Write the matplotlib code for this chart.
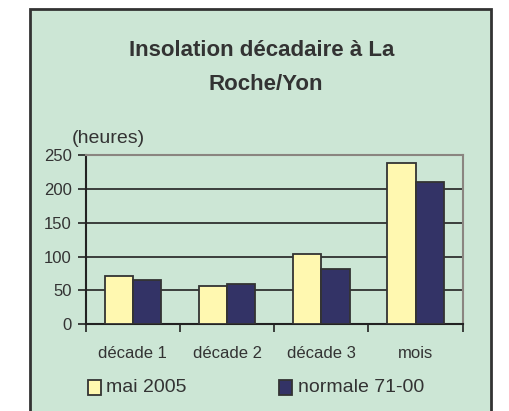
import matplotlib
matplotlib.use('Agg')
import matplotlib.pyplot as plt
from matplotlib.patches import Rectangle
import numpy as np

categories = ['décade 1', 'décade 2', 'décade 3', 'mois']
mai_2005 = [72, 56, 104, 238]
normale = [66, 60, 82, 210]
yticks = [0, 50, 100, 150, 200, 250]

plt.rcParams['font.family'] = ['Liberation Sans', 'DejaVu Sans']
txt = '#333333'
bg = '#cce6d5'

fig = plt.figure(figsize=(5.09, 4.11), dpi=100)
fig.patch.set_facecolor('white')

# green panel with dark border (bottom runs off the image)
panel = Rectangle((30 / 509, -0.05), (491 - 30) / 509, 1.05 - 9 / 411,
                  transform=fig.transFigure, facecolor=bg, edgecolor='#333333',
                  linewidth=2, zorder=-5)
fig.patches.append(panel)

ax = fig.add_axes([85.7 / 509, 86.7 / 411, 377 / 509, 169.3 / 411])
ax.set_facecolor('none')

x = np.arange(len(categories))
w = 0.3
ax.bar(x - w / 2, mai_2005, w, color='#fff8b0', edgecolor='#333333', linewidth=1.3, zorder=3,
       label='mai 2005')
ax.bar(x + w / 2, normale, w, color='#333366', edgecolor='#333333', linewidth=1.3, zorder=3,
       label='normale 71-00')

ax.set_xlim(-0.5, len(categories) - 0.5)
ax.set_ylim(0, 250)
ax.set_yticks(yticks)
ax.set_yticklabels([str(v) for v in yticks], fontsize=12, color=txt)
for v in yticks[1:-1]:
    ax.axhline(v, color='#222222', linewidth=1.2, zorder=1)

ax.set_xticks(np.arange(len(categories) + 1) - 0.5)
ax.set_xticklabels([])
ax.tick_params(axis='x', direction='out', length=6, width=1.2, color='#222222')
ax.tick_params(axis='y', direction='out', length=6, width=1.2, color='#222222', pad=4)
for i, c in enumerate(categories):
    ax.text(i, -0.17, c, transform=ax.get_xaxis_transform(), ha='center', va='center',
            fontsize=12, color=txt)

ax.spines['left'].set_color('#222222')
ax.spines['left'].set_linewidth(1.5)
ax.spines['bottom'].set_color('#222222')
ax.spines['bottom'].set_linewidth(1.5)
ax.spines['top'].set_color('#8a8580')
ax.spines['top'].set_linewidth(1.5)
ax.spines['right'].set_color('#8a8580')
ax.spines['right'].set_linewidth(1.5)

fig.text(108 / 509, 1 - 138 / 411, '(heures)', ha='center', va='center', fontsize=14, color=txt)
fig.text(262 / 509, 1 - 50 / 411, 'Insolation décadaire à La', ha='center', va='center',
         fontsize=16, fontweight='bold', color=txt)
fig.text(266 / 509, 1 - 84 / 411, 'Roche/Yon', ha='center', va='center',
         fontsize=16, fontweight='bold', color=txt)

# legend drawn by hand
fig.patches.append(Rectangle((88 / 509, 1 - 395 / 411), 13 / 509, 15 / 411, transform=fig.transFigure,
                             facecolor='#fff8b0', edgecolor='#333333', linewidth=1.3))
fig.text(106 / 509, 1 - 387 / 411, 'mai 2005', ha='left', va='center', fontsize=14, color=txt)
fig.patches.append(Rectangle((279 / 509, 1 - 395 / 411), 13 / 509, 15 / 411, transform=fig.transFigure,
                             facecolor='#333366', edgecolor='#333333', linewidth=1.3))
fig.text(298 / 509, 1 - 387 / 411, 'normale 71-00', ha='left', va='center', fontsize=14, color=txt)

fig.savefig('out.png', dpi=100)
